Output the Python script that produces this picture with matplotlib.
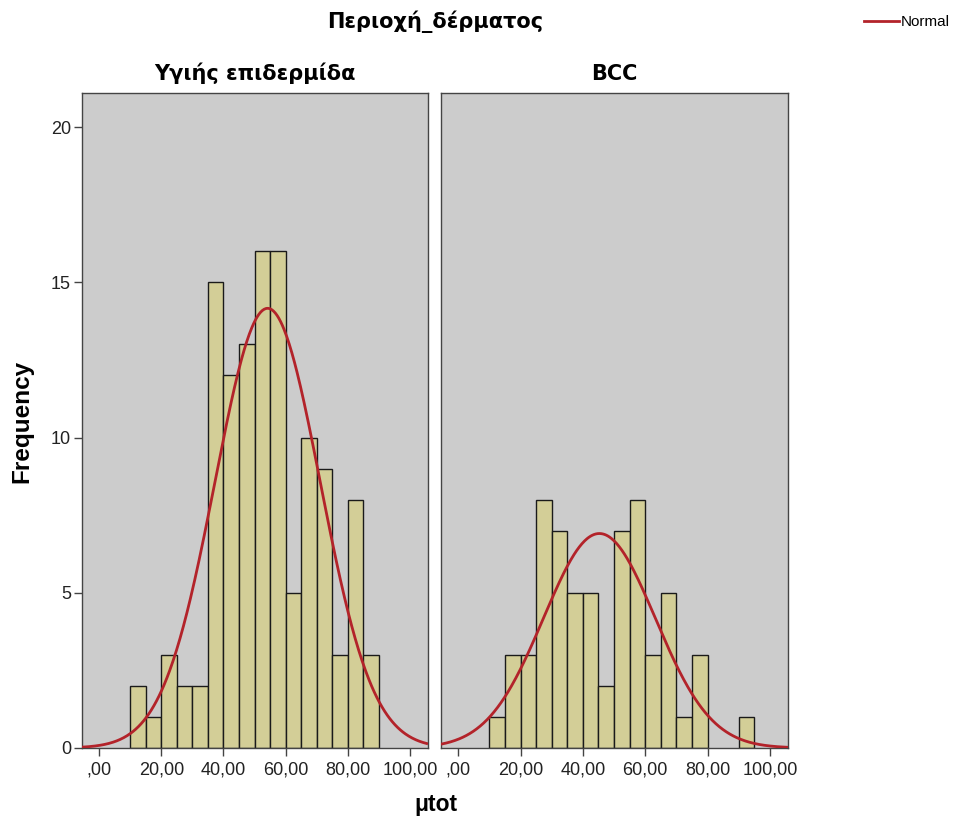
import numpy as np
import matplotlib
matplotlib.use("Agg")
import matplotlib.pyplot as plt

plt.rcParams['font.family'] = ['Liberation Sans', 'DejaVu Sans']

# ---- data ----
bin_edges = [10, 15, 20, 25, 30, 35, 40, 45, 50, 55, 60, 65, 70, 75, 80, 85, 90, 95]
healthy_counts = [2, 1, 3, 2, 2, 15, 12, 13, 16, 16, 5, 10, 9, 3, 8, 3, 0]
bcc_counts = [1, 3, 3, 8, 7, 5, 5, 2, 7, 8, 3, 5, 1, 3, 0, 0, 1]
healthy_mean, healthy_sd = 54.2, 16.9
bcc_mean, bcc_sd = 45.3, 17.9
panel_titles = ["Υγιής επιδερμίδα", "BCC"]
xtick_vals = [0, 20, 40, 60, 80, 100]
xtick_labels = [",00", "20,00", "40,00", "60,00", "80,00", "100,00"]
ytick_vals = [0, 5, 10, 15, 20]

bar_color = "#D3CE97"
face_color = "#CCCCCC"
curve_color = "#B3232A"
title_font = ['DejaVu Sans']

fig = plt.figure(figsize=(9.6, 8.25), dpi=100)
W, H = 960, 825

def ax_rect(x0, y0, x1, y1):
    return [x0 / W, 1 - y1 / H, (x1 - x0) / W, (y1 - y0) / H]

axes = [fig.add_axes(ax_rect(82, 93, 428, 748)),
        fig.add_axes(ax_rect(441, 93, 788, 748))]

xlim = (-5.5, 105.8)
ylim = (0, 21.1)
series = [(healthy_counts, healthy_mean, healthy_sd),
          (bcc_counts, bcc_mean, bcc_sd)]

for i, (ax, (counts, mu, sd), title) in enumerate(zip(axes, series, panel_titles)):
    ax.set_facecolor(face_color)
    edges = np.array(bin_edges, dtype=float)
    widths = np.diff(edges)
    c = np.array(counts, dtype=float)
    mask = c > 0
    ax.bar(edges[:-1][mask], c[mask], width=widths[mask], align='edge',
           color=bar_color, edgecolor='#1a1a1a', linewidth=1.0, zorder=2)
    n = c.sum()
    bw = widths[0]
    xs = np.linspace(xlim[0], xlim[1], 400)
    ys = n * bw * np.exp(-0.5 * ((xs - mu) / sd) ** 2) / (sd * np.sqrt(2 * np.pi))
    ax.plot(xs, ys, color=curve_color, linewidth=2.0, zorder=3, solid_capstyle='butt')
    ax.set_xlim(*xlim)
    ax.set_ylim(*ylim)
    ax.set_xticks(xtick_vals)
    ax.set_xticklabels(xtick_labels, fontsize=13, color='#222222')
    ax.tick_params(axis='x', direction='out', length=6, width=1, color='#444444', pad=4)
    if i == 0:
        ax.set_yticks(ytick_vals)
        ax.set_yticklabels([str(v) for v in ytick_vals], fontsize=13, color='#222222')
        ax.tick_params(axis='y', direction='out', length=6, width=1, color='#444444', pad=2)
    else:
        ax.set_yticks([])
    for sp in ax.spines.values():
        sp.set_color('#444444')
        sp.set_linewidth(1.0)
    ax.set_title(title, fontsize=15, fontweight='bold', pad=9, family=title_font)

fig.text(435 / W, 1 - 22 / H, "Περιοχή_δέρματος", ha='center', va='center',
         fontsize=15, fontweight='bold', family=title_font)
fig.text(22 / W, 1 - 421 / H, "Frequency", ha='center', va='center', rotation=90,
         fontsize=17.5, fontweight='bold')
fig.text(436 / W, 1 - 805 / H, "μtot", ha='center', va='center',
         fontsize=16.5, fontweight='bold')

# legend
fig.add_artist(matplotlib.lines.Line2D([864 / W, 899 / W], [1 - 21 / H, 1 - 21 / H],
                                       color=curve_color, linewidth=2.0))
fig.text(901 / W, 1 - 22 / H, "Normal", ha='left', va='center', fontsize=11)

fig.savefig("out.png", dpi=100)
